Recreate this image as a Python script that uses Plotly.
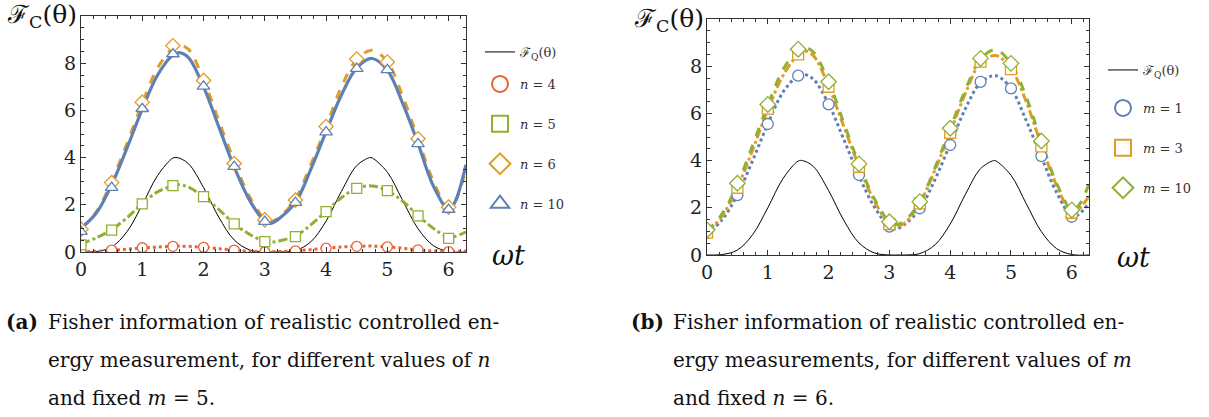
import plotly.graph_objects as go

W, H = 1209, 417

# ---------------- data ----------------
X_CURVE = [0, 0.25, 0.5, 0.75, 1.0, 1.25, 1.5, 1.6, 1.75, 2.0, 2.25, 2.5, 2.75, 3.0, 3.1,
           3.25, 3.5, 3.75, 4.0, 4.25, 4.5, 4.75, 5.0, 5.25, 5.5, 5.75, 6.0, 6.1, 6.2832]
X_FQ = [0, 0.25, 0.5, 0.75, 1.0, 1.25, 1.5, 1.5708, 1.75, 2.0, 2.25, 2.5, 2.75, 3.0, 3.1416,
        3.25, 3.5, 3.75, 4.0, 4.25, 4.5, 4.7124, 4.75, 5.0, 5.25, 5.5, 5.75, 6.0, 6.2832]
FQ = [0, 0.02, 0.21, 0.86, 2.0, 3.24, 3.98, 4.0, 3.75, 2.73, 1.47, 0.51, 0.09, 0.0, 0.0,
      0.0, 0.06, 0.43, 1.31, 2.57, 3.66, 4.0, 3.99, 3.38, 2.18, 0.99, 0.27, 0.02, 0.0]
X_MARK = [0, 0.5, 1.0, 1.5, 2.0, 2.5, 3.0, 3.5, 4.0, 4.5, 5.0, 5.5, 6.0]

# panel (a): fixed m = 5, different n
A_N4 = [0.02, 0.03, 0.07, 0.12, 0.17, 0.21, 0.24, 0.25, 0.24, 0.2, 0.14, 0.08, 0.03, 0.01, 0.01,
        0.02, 0.05, 0.1, 0.16, 0.21, 0.24, 0.25, 0.22, 0.16, 0.09, 0.04, 0.02, 0.02, 0.04]
A_N5 = [0.35, 0.6, 0.95, 1.45, 2.05, 2.55, 2.8, 2.85, 2.75, 2.35, 1.8, 1.2, 0.75, 0.45, 0.42,
        0.48, 0.68, 1.15, 1.72, 2.3, 2.7, 2.8, 2.6, 2.15, 1.55, 1.0, 0.62, 0.65, 0.85]
A_N6 = [1.0, 1.7, 3.0, 4.6, 6.3, 7.8, 8.65, 8.75, 8.6, 7.3, 5.55, 3.85, 2.35, 1.4, 1.28,
        1.5, 2.25, 3.7, 5.3, 7.0, 8.15, 8.55, 8.05, 6.6, 4.8, 3.0, 1.85, 2.1, 3.5]
A_N10 = [1.0, 1.65, 2.85, 4.4, 6.05, 7.5, 8.35, 8.45, 8.25, 7.0, 5.3, 3.6, 2.2, 1.3, 1.22,
         1.45, 2.1, 3.5, 5.1, 6.65, 7.8, 8.2, 7.7, 6.3, 4.6, 2.8, 1.8, 2.1, 3.7]
A_N4_M = [0.02, 0.08, 0.18, 0.24, 0.2, 0.08, 0.01, 0.05, 0.16, 0.24, 0.22, 0.09, 0.02]
A_N5_M = [0.3, 0.93, 2.04, 2.81, 2.35, 1.19, 0.44, 0.65, 1.71, 2.7, 2.6, 1.53, 0.58]
A_N6_M = [0.96, 2.94, 6.35, 8.74, 7.27, 3.75, 1.36, 2.2, 5.32, 8.18, 8.05, 4.8, 1.9]
A_N10_M = [0.86, 2.73, 6.07, 8.39, 7.02, 3.62, 1.29, 2.09, 5.08, 7.77, 7.72, 4.58, 1.8]

# panel (b): fixed n = 6, different m
B_M1 = [0.9, 1.5, 2.55, 4.0, 5.55, 6.9, 7.6, 7.65, 7.45, 6.4, 4.9, 3.35, 2.05, 1.2, 1.1,
        1.3, 1.95, 3.2, 4.7, 6.2, 7.3, 7.6, 7.05, 5.7, 4.15, 2.65, 1.65, 1.7, 2.2]
B_M3 = [0.95, 1.65, 2.85, 4.45, 6.15, 7.6, 8.5, 8.65, 8.45, 7.15, 5.45, 3.75, 2.3, 1.3, 1.2,
        1.35, 2.2, 3.6, 5.2, 6.85, 8.15, 8.45, 7.9, 6.5, 4.65, 2.95, 1.8, 1.9, 2.5]
B_M10 = [1.0, 1.75, 3.0, 4.65, 6.35, 7.85, 8.7, 8.8, 8.6, 7.35, 5.6, 3.85, 2.4, 1.4, 1.28,
         1.45, 2.25, 3.7, 5.35, 7.0, 8.3, 8.7, 8.1, 6.7, 4.8, 3.05, 1.9, 2.05, 3.0]
B_M1_M = [0.93, 2.54, 5.55, 7.6, 6.38, 3.39, 1.2, 1.98, 4.66, 7.34, 7.06, 4.19, 1.62]
B_M3_M = [0.95, 2.85, 6.2, 8.5, 7.13, 3.74, 1.31, 2.19, 5.18, 8.19, 7.88, 4.6, 1.79]
B_M10_M = [1.06, 3.04, 6.38, 8.72, 7.34, 3.86, 1.41, 2.26, 5.37, 8.33, 8.12, 4.83, 1.91]

X_TICKS = [0, 1, 2, 3, 4, 5, 6]
Y_TICKS = [0, 2, 4, 6, 8]

BLUE = "#5E81B5"
ORANGE = "#E19C24"
GREEN = "#8FB032"
RED = "#EB6235"
SERIF = "DejaVu Serif"

fig = go.Figure()


def px_x(p):
    return p / W


def px_y(p):
    return 1 - p / H


def add_curve(x, y, color, dash, width, xa, ya):
    fig.add_trace(go.Scatter(x=x, y=y, mode="lines", xaxis=xa, yaxis=ya,
                             line=dict(color=color, dash=dash, width=width, shape="spline"),
                             showlegend=False, hoverinfo="skip"))


def add_marks(x, y, color, symbol, size, xa, ya):
    fig.add_trace(go.Scatter(x=x, y=y, mode="markers", xaxis=xa, yaxis=ya,
                             marker=dict(symbol=symbol, size=size, color="white",
                                         line=dict(color=color, width=1.3)),
                             showlegend=False, hoverinfo="skip"))


def add_legend_marker(name, color, symbol, legend, xa, ya):
    fig.add_trace(go.Scatter(x=[None], y=[None], mode="markers", xaxis=xa, yaxis=ya,
                             name=name, legend=legend, legendgroup=name,
                             marker=dict(symbol=symbol, size=16, color="white",
                                         line=dict(color=color, width=2))))


# ---- panel (a)
fig.add_trace(go.Scatter(x=X_FQ, y=FQ, mode="lines", xaxis="x", yaxis="y",
                         line=dict(color="black", width=1, shape="spline"),
                         name="ℱ<sub>Q</sub>(θ)", legend="legend", legendgroup="fqa"))
add_curve(X_CURVE, A_N4, RED, "dot", 3, "x", "y")
add_curve(X_CURVE, A_N5, GREEN, "dashdot", 3, "x", "y")
add_curve(X_CURVE, A_N6, ORANGE, "dash", 3, "x", "y")
add_curve(X_CURVE, A_N10, BLUE, "solid", 3.2, "x", "y")
add_marks(X_MARK, A_N4_M, RED, "circle", 10, "x", "y")
add_marks(X_MARK, A_N5_M, GREEN, "square", 10, "x", "y")
add_marks(X_MARK, A_N6_M, ORANGE, "diamond", 11, "x", "y")
add_marks(X_MARK, A_N10_M, BLUE, "triangle-up", 11, "x", "y")
add_legend_marker("<i>n</i> = 4", RED, "circle", "legend2", "x", "y")
add_legend_marker("<i>n</i> = 5", GREEN, "square", "legend2", "x", "y")
add_legend_marker("<i>n</i> = 6", ORANGE, "diamond", "legend2", "x", "y")
add_legend_marker("<i>n</i> = 10", BLUE, "triangle-up", "legend2", "x", "y")

# ---- panel (b)
fig.add_trace(go.Scatter(x=X_FQ, y=FQ, mode="lines", xaxis="x2", yaxis="y2",
                         line=dict(color="black", width=1, shape="spline"),
                         name="ℱ<sub>Q</sub>(θ)", legend="legend3", legendgroup="fqb"))
add_curve(X_CURVE, B_M1, BLUE, "dot", 3, "x2", "y2")
add_curve(X_CURVE, B_M3, ORANGE, "dashdot", 3, "x2", "y2")
add_curve(X_CURVE, B_M10, GREEN, "dash", 3, "x2", "y2")
add_marks(X_MARK, B_M1_M, BLUE, "circle", 11, "x2", "y2")
add_marks(X_MARK, B_M3_M, ORANGE, "square", 11, "x2", "y2")
add_marks(X_MARK, B_M10_M, GREEN, "diamond", 12, "x2", "y2")
add_legend_marker("<i>m</i> = 1", BLUE, "circle", "legend4", "x2", "y2")
add_legend_marker("<i>m</i> = 3", ORANGE, "square", "legend4", "x2", "y2")
add_legend_marker("<i>m</i> = 10", GREEN, "diamond", "legend4", "x2", "y2")

axis_common = dict(showline=True, mirror="allticks", linecolor="#333", linewidth=1,
                   ticks="inside", ticklen=5, tickcolor="#333", showgrid=False, zeroline=False,
                   automargin=False,
                   tickfont=dict(family=SERIF, size=19, color="#222"))
xaxis_common = dict(axis_common, range=[0, 6.2832], tickvals=X_TICKS,
                    minor=dict(ticks="inside", ticklen=3, dtick=0.2, tick0=0, tickcolor="#333", showgrid=False))
yaxis_common = dict(axis_common, range=[0, 10], tickvals=Y_TICKS,
                    minor=dict(ticks="inside", ticklen=3, dtick=0.5, tick0=0, tickcolor="#333", showgrid=False))

legend_common = dict(font=dict(family=SERIF, size=13, color="#333"), bgcolor="rgba(0,0,0,0)",
                     tracegroupgap=20, traceorder="grouped", itemsizing="trace",
                     xanchor="left")

fig.update_layout(
    width=W, height=H, autosize=False,
    margin=dict(l=0, r=0, t=0, b=0, pad=0, autoexpand=False),
    paper_bgcolor="white", plot_bgcolor="white",
    font=dict(family=SERIF),
    xaxis=dict(xaxis_common, domain=[px_x(81), px_x(466)], anchor="y"),
    yaxis=dict(yaxis_common, domain=[px_y(252), px_y(16)], anchor="x"),
    xaxis2=dict(xaxis_common, domain=[px_x(707), px_x(1089)], anchor="y2"),
    yaxis2=dict(yaxis_common, domain=[px_y(255), px_y(19)], anchor="x2"),
    legend=dict(legend_common, x=px_x(480), y=px_y(52), yanchor="middle"),
    legend2=dict(legend_common, x=px_x(480), y=px_y(69), yanchor="top"),
    legend3=dict(legend_common, x=px_x(1103), y=px_y(70), yanchor="middle"),
    legend4=dict(legend_common, x=px_x(1103), y=px_y(93), yanchor="top"),
    showlegend=True,
)

ann = []


def text(x, y, s, size, xanchor="left", italic=False):
    ann.append(dict(x=px_x(x), y=px_y(y), xref="paper", yref="paper", text=s, showarrow=False,
                    xanchor=xanchor, yanchor="middle",
                    font=dict(family=SERIF, size=size, color="#111",
                              style="italic" if italic else "normal")))


text(5, 16, "ℱ<sub>C</sub>(θ)", 25)
text(632, 20, "ℱ<sub>C</sub>(θ)", 25)
text(490, 255, "ωt", 27, italic=True)
text(1115, 257, "ωt", 27, italic=True)

CAP_Y = [322, 360, 398]
CAP = 20
text(4, CAP_Y[0], "<b>(a)</b>", CAP)
text(46, CAP_Y[0], "Fisher information of realistic controlled en-", CAP)
text(46, CAP_Y[1], "ergy measurement, for different values of <i>n</i>", CAP)
text(46, CAP_Y[2], "and fixed <i>m</i> = 5.", CAP)
text(629, CAP_Y[0], "<b>(b)</b>", CAP)
text(671, CAP_Y[0], "Fisher information of realistic controlled en-", CAP)
text(671, CAP_Y[1], "ergy measurements, for different values of <i>m</i>", CAP)
text(671, CAP_Y[2], "and fixed <i>n</i> = 6.", CAP)

fig.update_layout(annotations=ann)

fig.write_html("out.html", config={"displayModeBar": False},
               post_script="document.body.style.margin='0px';")
